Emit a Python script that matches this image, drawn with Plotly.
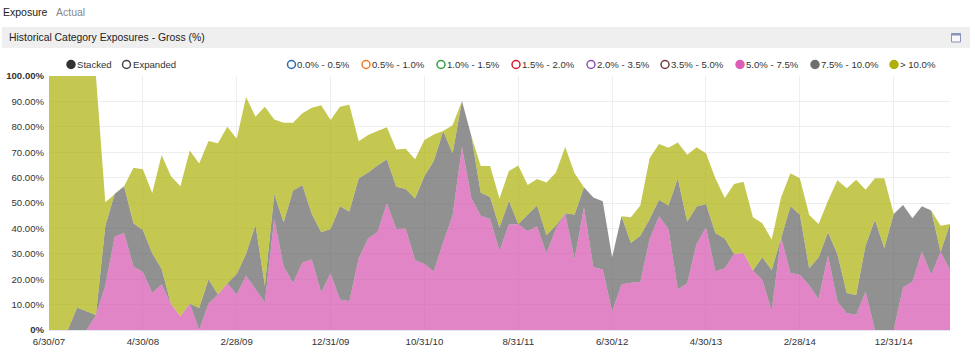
import plotly.graph_objects as go
import numpy as np

months = []
for y in range(2007, 2016):
    for m, d in [(1,31),(2,29 if y % 4 == 0 else 28),(3,31),(4,30),(5,31),(6,30),(7,31),(8,31),(9,30),(10,31),(11,30),(12,31)]:
        if (y == 2007 and m < 6) or (y == 2015 and m > 6):
            continue
        months.append(f"{m}/{d}/{y % 100:02d}")

tick_dates = ["6/30/07","4/30/08","2/28/09","12/31/09","10/31/10","8/31/11","6/30/12","4/30/13","2/28/14","12/31/14"]
y_ticks = [0,10,20,30,40,50,60,70,80,90,100]
y_labels = ["<b>0%</b>","10.00%","20.00%","30.00%","40.00%","50.00%","60.00%","70.00%","80.00%","90.00%","<b>100.00%</b>"]

pink = [0,0,0,0,0,5.8,17.5,36.7,38.3,25,22.8,14.6,18,10.2,5.4,10.4,0,10.4,14,18.4,14,21.4,16,10.9,
        43.7,25,18.5,26.6,27.8,14.8,22.3,12,11.3,28.2,36,38.5,49.9,39.8,40,27.6,26,23,34.5,45,72,52,45,43.7,
        31.2,41.5,41.6,39,40.7,30.2,39.8,46,28,48.3,24.7,23.8,7.3,18,18.6,18.9,35.8,44.8,39.8,15.9,18.4,33.9,
        40.4,23.1,24.3,29.9,30.3,23.4,19.8,7.6,36.5,22.4,21.8,17.5,12.2,29.3,11.2,6.6,6,15.2,0,0,0,16.8,19,30.8,21.8,30.8,23.6]
gray_top = [0,0,0,8.9,7.3,5.9,41,53.5,56.6,42,39.4,30.2,24,10.2,5.4,10.4,8.7,20,14,18.4,22,30,41.3,17.5,
        53.5,42.4,54.9,57,45.7,38.5,39.8,48.7,46.7,59.7,62,64.8,67.2,56.4,55.5,51.8,60.6,66.5,78.3,69.6,90.2,76.4,54,52.4,
        40.4,50.9,41.7,45.3,49,37.4,41,46,45.5,56.2,52.2,50.7,28.6,44.8,34.3,37.1,43.7,51.3,49,59.7,42.6,48.6,
        49.6,38.2,36,29.9,30.3,23.4,28.6,23.6,36.5,48.7,45.5,24.3,28.6,38.5,29.9,14.6,13.8,33.2,43.4,32.3,45.7,49.2,44,48.7,47,30.8,41.7]
olive_top = [100,100,100,100,100,100,50.3,53.5,56.6,63.9,63.3,53.9,68.9,60.5,56.6,70.7,65.6,74.4,73.5,80,75.3,91.7,84,87.9,
        82.9,81.6,81.6,85.3,87.5,88.5,82.7,87.9,88.7,74.3,76.8,78.3,79.8,71.1,71.4,67.2,74.8,77,78.3,80.6,90.2,76.4,64.6,64.6,
        51.8,62.6,64.8,57.1,59.4,58.1,61.9,72,61.7,56.2,52.2,50.7,28.6,44.8,44.4,49,67.7,73.2,71.8,73.8,69,71.9,
        69.6,59.7,52,57.5,58.4,44.4,42,35.6,52.2,61.7,59.7,45.3,41.7,50.9,59,55.8,59.2,55.2,59.7,59.7,45.7,49.2,44,48.7,47,41,41.7]

legend_labels = ["0.0% - 0.5%","0.5% - 1.0%","1.0% - 1.5%","1.5% - 2.0%","2.0% - 3.5%","3.5% - 5.0%","5.0% - 7.5%","7.5% - 10.0%","> 10.0%"]
legend_colors = ["#2b6cb0","#f07a24","#2e9e3a","#d9182d","#8e4fb5","#7a3b3b","#dd5db5","#6e6e6e","#aeb00f"]
legend_filled = [False,False,False,False,False,False,True,True,True]
legend_x = [291.5,366,441,516,591,665,740,815,894]

W, H = 975, 356
L, R, T, B = 49, 25, 76, 26
px = lambda x: (x - L) / (W - L - R)
py = lambda y: 1 - (y - T) / (H - T - B)

fig = go.Figure()
stack = [("5.0% - 7.5%", np.array(pink), "rgba(215,86,176,0.72)"),
         ("7.5% - 10.0%", np.array(gray_top) - np.array(pink), "rgba(98,98,98,0.70)"),
         ("> 10.0%", np.array(olive_top) - np.array(gray_top), "rgba(173,179,12,0.72)")]
for name, vals, col in stack:
    fig.add_trace(go.Scatter(x=months, y=vals, name=name, mode="lines", stackgroup="one",
                             line=dict(width=0), fillcolor=col, showlegend=False))

shapes, ann = [], []
def text(x, y, s, size=9.6, color="#333"):
    ann.append(dict(xref="paper", yref="paper", x=px(x), y=py(y), text=s, showarrow=False, xanchor="left",
                    yanchor="middle", font=dict(size=size, color=color), align="left", borderpad=0, borderwidth=0))
def circle(cx, cy, col, filled, r=4):
    shapes.append(dict(type="circle", xref="paper", yref="paper", x0=px(cx-r), x1=px(cx+r), y0=py(cy+r), y1=py(cy-r),
                       line=dict(color=col, width=1.5), fillcolor=col if filled else "white", layer="above"))

shapes.append(dict(type="rect", xref="paper", yref="paper", x0=px(2), x1=px(970), y0=py(48), y1=py(27),
                   fillcolor="#efefef", line=dict(width=0), layer="below"))
shapes.append(dict(type="rect", xref="paper", yref="paper", x0=px(951.5), x1=px(960.5), y0=py(42), y1=py(33.5),
                   fillcolor="#f7f8fb", line=dict(color="#8a93b8", width=1), layer="above"))
shapes.append(dict(type="rect", xref="paper", yref="paper", x0=px(951.5), x1=px(960.5), y0=py(35.5), y1=py(33.5),
                   fillcolor="#8a93b8", line=dict(width=0), layer="above"))

text(3, 12, "Exposure", 10.5, "#222")
text(56, 12, "Actual", 10.5, "#888")
text(9, 37, "Historical Category Exposures - Gross (%)", 10.4, "#222")
circle(71, 64.5, "#333333", True)
text(77, 64, "Stacked")
circle(126.5, 64.5, "#444444", False)
text(132.5, 64, "Expanded")
for x, lab, col, f in zip(legend_x, legend_labels, legend_colors, legend_filled):
    circle(x, 64.5, col, f)
    text(x + 5.5, 64, lab)

fig.update_layout(
    width=W, height=H, margin=dict(l=L, r=R, t=T, b=B), paper_bgcolor="white", plot_bgcolor="white",
    font=dict(family="Liberation Sans, Arial, sans-serif", size=10, color="#333"),
    shapes=shapes, annotations=ann, showlegend=False,
    xaxis=dict(type="category", categoryorder="array", categoryarray=months, range=[0, len(months)-1],
               tickmode="array", tickvals=tick_dates, ticktext=tick_dates, showgrid=True, gridcolor="#eeeeee",
               gridwidth=1, zeroline=False, showline=True, linecolor="#e6e6f0", automargin=False,
               ticks="outside", ticklen=2, tickcolor="rgba(255,255,255,0)", tickfont=dict(size=9.7, color="#333")),
    yaxis=dict(range=[0, 100], tickmode="array", tickvals=y_ticks, ticktext=y_labels, showgrid=True, automargin=False,
               gridcolor="#eeeeee", gridwidth=1, zeroline=False, ticks="outside", ticklen=2,
               tickcolor="rgba(255,255,255,0)", tickfont=dict(size=9.6, color="#333")),
)
fig.write_html("out.html", config=dict(displayModeBar=False), post_script="document.body.style.margin='0';")
